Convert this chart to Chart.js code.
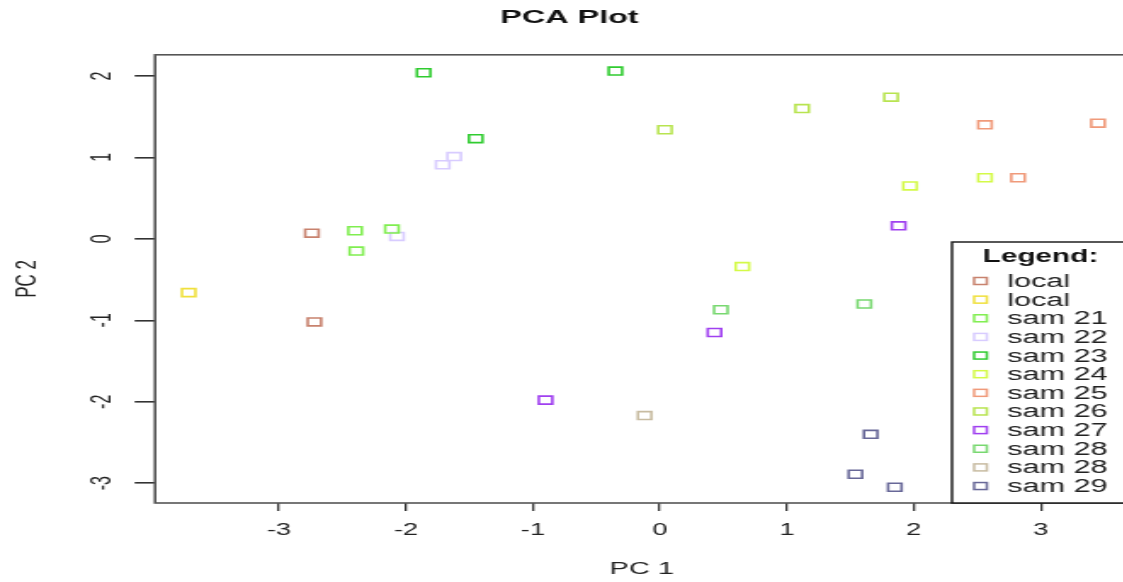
<!DOCTYPE html>
<html>
<head>
<meta charset="utf-8">
<script src="https://cdn.jsdelivr.net/npm/chart.js@4/dist/chart.umd.min.js"></script>
<style>
  html, body { margin: 0; padding: 0; background: #fff; overflow: hidden; }
  #wrap { width: 671px; height: 582px; transform: scaleX(1.7); transform-origin: 0 0; }
</style>
</head>
<body>
<div id="wrap"><canvas id="chart" width="671" height="582"></canvas></div>
<script>
// groups as in the legend (two "local" and two "sam 28" entries, like the original)
const groups = ['local', 'local', 'sam 21', 'sam 22', 'sam 23', 'sam 24', 'sam 25', 'sam 26', 'sam 27', 'sam 28', 'sam 28', 'sam 29']
const colors = ['#c8826e', '#f0e03c', '#80ee50', '#d8ccff', '#30cc30', '#d4fa48', '#f09a7a', '#b8e450', '#a040f0', '#78d870', '#c8bca2', '#686898']

// PC scores per group
const pc1 = [
    [-2.74, -2.72],
    [-3.71],
    [-2.40, -2.11, -2.39],
    [-1.62, -1.71, -2.07],
    [-1.86, -1.45, -0.35],
    [2.56, 1.97, 0.65],
    [2.56, 3.45, 2.82],
    [0.04, 1.12, 1.82],
    [1.88, 0.43, -0.90],
    [0.48, 1.61],
    [-0.12],
    [1.66, 1.54, 1.85]
]
const pc2 = [
    [0.07, -1.02],
    [-0.66],
    [0.10, 0.12, -0.15],
    [1.01, 0.91, 0.03],
    [2.04, 1.23, 2.06],
    [0.75, 0.65, -0.34],
    [1.40, 1.42, 0.75],
    [1.34, 1.60, 1.74],
    [0.16, -1.15, -1.98],
    [-0.87, -0.80],
    [-2.17],
    [-2.40, -2.89, -3.05]
]
const xTicks = [-3, -2, -1, 0, 1, 2, 3]
const yTicks = [-3, -2, -1, 0, 1, 2]

const textColor = '#222'
const font = 'Liberation Sans, Arial, sans-serif'

// box round the plot area
const boxPlugin = {
    id: 'box',
    beforeDatasetsDraw(chart) {
        const { ctx, chartArea: a } = chart
        ctx.save()
        ctx.strokeStyle = '#555'
        ctx.lineWidth = 1.6
        ctx.strokeRect(a.left, a.top, a.right - a.left, a.bottom - a.top)
        ctx.restore()
    }
}

// R style legend box in the lower right
const legendPlugin = {
    id: 'rlegend',
    afterDatasetsDraw(chart) {
        const { ctx, chartArea: a } = chart
        const left = 560, top = 242, rowH = 18.64
        ctx.save()
        ctx.fillStyle = '#fff'
        ctx.fillRect(left, top, 200, a.bottom - top)
        ctx.strokeStyle = '#111'
        ctx.lineWidth = 1.4
        ctx.strokeRect(left, top, 200, a.bottom - top)
        ctx.fillStyle = '#111'
        ctx.textAlign = 'center'
        ctx.textBaseline = 'middle'
        ctx.font = `bold 17.5px ${font}`
        ctx.fillText('Legend:', 612, 257)
        ctx.textAlign = 'left'
        ctx.font = `18px ${font}`
        chart.data.datasets.forEach((ds, i) => {
            const y = 281 + i * rowH
            ctx.strokeStyle = ds.borderColor
            ctx.lineWidth = 1.5
            ctx.strokeRect(573, y - 3.5, 7.5, 7)
            ctx.fillStyle = textColor
            ctx.fillText(ds.label, 592.5, y + 1)
        })
        ctx.restore()
    }
}

const ctx = document.getElementById('chart').getContext('2d')
new Chart(ctx, {
    type: 'scatter',
    data: {
        datasets: groups.map((g, i) => ({
            label: g,
            data: pc1[i].map((x, j) => ({ x: x, y: pc2[i][j] })),
            borderColor: colors[i],
            backgroundColor: 'transparent',
            pointStyle: 'rect',
            pointRadius: 5.6,
            pointBorderWidth: 1.6,
            pointHoverRadius: 5.6
        }))
    },
    options: {
        responsive: false,
        animation: false,
        events: [],
        layout: { padding: { top: 0, left: 0, right: 1, bottom: 0 } },
        plugins: {
            legend: { display: false },
            tooltip: { enabled: false },
            title: {
                display: true,
                text: 'PCA Plot',
                color: '#111',
                font: { family: font, size: 19, weight: 'bold' },
                padding: { top: 6, bottom: 26 }
            }
        },
        scales: {
            x: {
                type: 'linear',
                min: -3.975,
                max: 3.69,
                afterBuildTicks: scale => { scale.ticks = xTicks.map(v => ({ value: v })) },
                afterFit: scale => { scale.height = 79 },
                border: { display: false },
                grid: { drawOnChartArea: false, drawTicks: true, tickLength: 8, color: '#333', lineWidth: 1.3 },
                ticks: { color: textColor, font: { family: font, size: 16 }, padding: 10, maxRotation: 0 },
                title: { display: true, text: 'PC 1', color: textColor, font: { family: font, size: 17 }, padding: { top: 0, bottom: 2 } }
            },
            y: {
                type: 'linear',
                min: -3.243,
                max: 2.26,
                afterBuildTicks: scale => { scale.ticks = yTicks.map(v => ({ value: v })) },
                afterFit: scale => { scale.width = 91.2 },
                border: { display: false },
                grid: { drawOnChartArea: false, drawTicks: true, tickLength: 12, color: '#333', lineWidth: 1.6 },
                ticks: { color: textColor, font: { family: font, size: 16 }, padding: 11, minRotation: 90, maxRotation: 90, crossAlign: 'center' },
                title: { display: true, text: 'PC 2', color: textColor, font: { family: font, size: 17 }, padding: { top: 6, bottom: 0 } }
            }
        }
    },
    plugins: [boxPlugin, legendPlugin]
})
</script>
</body>
</html>
